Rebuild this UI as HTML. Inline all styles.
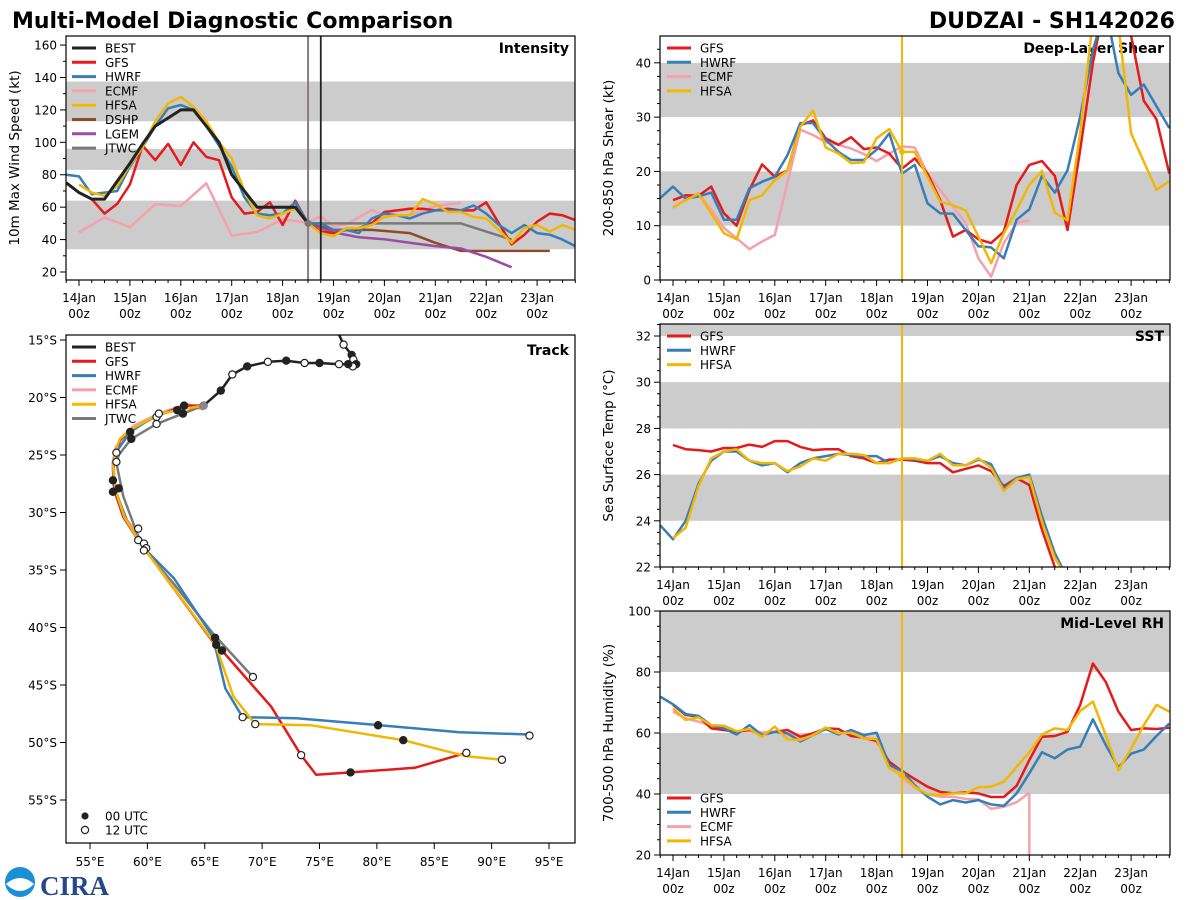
<!DOCTYPE html>
<html><head><meta charset="utf-8"><style>
html,body{margin:0;padding:0;background:#fff;}
svg{display:block;font-family:"DejaVu Sans","Liberation Sans",sans-serif;}
</style></head><body>
<svg id="chart" width="1200" height="900" viewBox="0 0 1200 900" xmlns="http://www.w3.org/2000/svg">
<text x="12" y="28" font-size="22" font-weight="bold" fill="#000">Multi-Model Diagnostic Comparison</text>
<text x="1175" y="28" font-size="22" font-weight="bold" fill="#000" text-anchor="end">DUDZAI - SH142026</text>
<g>
<circle cx="20" cy="882" r="15" fill="#1a8fd6"/>
<path d="M6,884 Q20,872 34,884 Q20,898 6,884Z" fill="#fff"/>
<text x="40" y="895" font-size="27" font-weight="bold" fill="#24488a" font-family="Liberation Serif, serif">CIRA</text>
</g>
</svg>
<script>
// ---------- Data ----------
const dayLabels = ["14Jan","15Jan","16Jan","17Jan","18Jan","19Jan","20Jan","21Jan","22Jan","23Jan"];
const forecastT = 4.5;
const bestFixT = 4.75;
// Intensity (kt), 6-hourly
const intBestStart = -0.25;
const intBest = [75,69,65,65,76,87,99,110,115,120,120,110,100,80,70,60,60,60,60,50];
const intGfsStart = 0;
const intGfs = [69,65,56,62,74,98,89,99,86,100,91,89,66,56,57,63,49,64,50,45,44,46,47,50,57,58,59,59,58,59,58,58,63,50,37,43,51,56,55,52];
const intHwrfStart = -0.25;
const intHwrf = [80,79,68,69,70,85,97,110,121,123,120,110,98,85,66,56,55,56,63,50,50,46,46,44,53,56,55,53,56,58,58,58,61,56,49,44,49,44,43,40,36];
const intHfsaStart = 0;
const intHfsa = [74,69,67,73,86,97,113,124,128,122,113,100,90,70,55,53,56,59,50,44,42,47,47,49,54,55,55,65,62,57,57,54,53,46,38,47,49,45,49,46];
const intEcmfT = [0,0.5,1,1.5,2,2.5,3,3.5,4,4.5,4.75,5,5.25,5.75,6,6.5,7,7.5];
const intEcmf = [44.5,53.7,47.6,61.8,60.7,74.7,42.4,44.7,52.5,50.4,54.5,48,49.4,58.2,55.2,55,60.7,62.8];
const intDshpT = [4.5,5,5.75,6.5,7,7.5,9.25];
const intDshp = [50,46,46,44,38,33,33];
const intLgemT = [4.5,5,5.5,6,6.5,7,7.5,8,8.5];
const intLgem = [50,44.5,41.4,40.2,38.1,36,34.5,29.4,22.9];
const intJtwcT = [4.5,7.5,8.5];
const intJtwc = [50,50,40];
const intBands = [[113,137.5],[83,96],[34,64]];
// Shear (kt)
const shrGfsStart = 0;
const shrGfs = [14.7,15.6,15.5,17.2,12.3,10.0,16.6,21.3,19.0,20.2,28.5,29.4,26.1,24.9,26.3,24.1,24.4,23.3,20.5,22.4,19.6,14.7,8.0,9.2,7.5,6.8,8.9,17.5,21.2,21.9,19.2,9.2,24,40,52,55,45,33,29.6,19.6];
const shrHwrfStart = -0.25;
const shrHwrf = [15.1,17.2,15.0,15.4,16.1,11.1,11.1,16.9,18.1,19.0,23.0,28.9,28.9,25.8,23.6,22.1,22.1,24.0,27.0,19.6,21.2,14.1,12.3,12.2,9.2,6.2,6.0,4.0,11.1,13.0,19.2,16.1,20.2,30.1,42.4,50,38.1,34.1,36.0,32.0,28.0];
const shrEcmfStart = 0;
const shrEcmf = [13.2,15.0,16.0,13.0,9.6,7.7,5.7,7.1,8.3,18.0,27.7,26.7,25.4,24.9,24.2,23.2,21.9,23.3,24.6,24.4,19.6,16.6,13.5,10.5,4.0,0.6,6.8,10.5,11.0];
const shrHfsaStart = 0;
const shrHfsa = [13.4,14.7,15.9,12.3,8.6,7.5,14.7,15.6,18.4,20.2,28.2,31.2,24.4,23.3,21.5,21.7,26.1,27.8,23.6,23.6,19.0,14.4,13.8,12.8,8.0,3.1,8.6,12.9,17.5,20.1,12.4,11.0,27.2,48,52,47,27.0,21.8,16.6,18.2];
const shrBands = [[10,20],[30,40]];
// SST (C)
const sstGfsStart = 0;
const sstGfs = [27.28,27.1,27.06,27.0,27.15,27.15,27.3,27.2,27.45,27.45,27.2,27.06,27.1,27.1,26.8,26.7,26.5,26.65,26.65,26.6,26.5,26.5,26.1,26.25,26.4,26.15,25.5,25.85,25.55,23.6,22.0,21.0];
const sstHwrfStart = -0.25;
const sstHwrf = [23.8,23.2,24.0,25.6,26.6,27.0,27.0,26.6,26.4,26.5,26.1,26.5,26.7,26.8,26.9,26.85,26.8,26.8,26.5,26.7,26.65,26.6,26.8,26.5,26.4,26.65,26.45,25.4,25.85,26.0,24.2,22.6,21.5];
const sstHfsaStart = 0;
const sstHfsa = [23.25,23.7,25.5,26.7,27.0,27.1,26.6,26.5,26.5,26.15,26.35,26.7,26.6,26.9,26.9,26.85,26.5,26.5,26.7,26.7,26.6,26.9,26.4,26.4,26.7,26.3,25.3,25.8,25.9,23.95,22.4,21.5];
const sstBands = [[24,26],[28,30],[32,33]];
// Mid-level RH (%)
const rhGfsStart = 0;
const rhGfs = [69.2,65.9,65.4,61.5,61.0,60.4,61.0,59.3,60.4,61.0,58.8,59.9,61.5,61.3,59.0,58.5,57.4,50.6,47.5,44.9,42.4,40.7,40.2,40.5,40.2,39.0,39.0,42.7,51.1,58.8,59.0,60.4,69.2,82.8,76.8,67.0,61.0,61.5,61.3,61.7];
const rhHwrfStart = -0.25;
const rhHwrf = [71.9,69.4,66.2,65.6,62.6,61.5,59.5,62.6,59.3,60.4,59.9,57.2,59.3,61.3,59.5,61.0,59.3,60.1,49.5,47.5,42.9,39.1,36.6,38.0,37.2,38.0,36.6,36.1,40.2,46.8,53.7,51.7,54.6,55.5,64.5,56.1,48.7,53.2,54.6,59.0,63.1];
const rhEcmfStart = 0;
const rhEcmf = [67.0,64.8,63.7,62.4,61.0,60.4,60.6,60.2,60.4,59.3,58.5,59.9,61.3,60.1,59.9,58.3,57.0,50.6,45.1,42.1,39.9,39.1,39.1,38.4,38.2,35.1,35.8,37.3,40.4];
const rhEcmfDrop = 0;
const rhHfsaStart = 0;
const rhHfsa = [68.0,64.3,65.1,62.6,62.4,60.6,61.3,58.8,62.1,57.9,57.7,59.3,61.8,59.9,60.1,58.3,58.0,48.4,46.2,42.4,39.9,39.7,40.2,40.2,42.2,42.4,44.0,48.9,53.7,59.5,61.5,61.0,67.2,70.3,59.3,47.8,54.9,62.6,69.2,67.0];
const rhBands = [[40,60],[80,100]];
// Track (lon E, lat S)
const trkBestLon = [76.5,77.1,77.8,77.95,78.2,77.9,77.5,76.7,75.0,73.7,72.1,70.5,68.7,67.4,66.4,64.9];
const trkBestLat = [14.1,15.4,16.3,16.7,17.1,17.3,17.1,17.1,17.0,17.0,16.8,16.9,17.3,18.0,19.4,20.7];
const trkBestHour = [12,12,0,12,0,12,0,12,0,12,0,12,0,12,0,12];
const trkGfsLon = [64.9,63.2,60.8,58.6,57.6,57.3,57.0,57.1,57.9,59.2,65.9,66.5,70.8,73.4,74.7,77.7,83.3,87.8];
const trkGfsLat = [20.7,20.7,21.6,22.8,23.7,24.9,26.0,28.0,30.4,32.4,41.5,42.0,46.9,51.1,52.8,52.6,52.2,50.9];
const trkHwrfLon = [64.9,62.6,60.8,58.5,57.3,57.0,57.2,58.2,59.6,62.3,65.7,66.8,68.3,73.0,80.3,87.2,93.3];
const trkHwrfLat = [20.7,21.1,21.5,23.0,24.7,26.3,28.0,30.7,33.0,35.7,40.8,45.3,47.8,47.9,48.5,49.1,49.3];
const trkEcmfLon = [64.9,63.4,61.1,58.8,57.3,57.0,57.2,58.2,59.1];
const trkEcmfLat = [21.0,20.6,21.4,22.5,24.3,25.7,28.3,30.7,31.8];
const trkHfsaLon = [64.9,63.2,61.1,58.5,57.6,57.2,57.0,57.3,58.0,59.4,65.9,67.5,69.4,74.3,82.3,87.8,90.9];
const trkHfsaLat = [20.7,21.0,21.4,22.8,23.6,24.7,26.0,28.3,30.4,32.7,41.4,46.0,48.4,48.5,49.8,51.2,51.5];
const trkJtwcLon = [64.9,63.1,60.8,58.6,57.5,57.3,57.9,59.1,59.8,62.3,65.7,69.2];
const trkJtwcLat = [20.7,21.4,22.3,23.6,25.0,25.7,28.6,31.8,33.3,36.2,40.5,44.3];
const fcstMk00Lon = [63.2,62.6,63.1,58.5,58.6,57.0,57.0,57.5,65.9,66.0,66.5,80.1,82.3,77.7];
const fcstMk00Lat = [20.7,21.1,21.4,23.0,23.6,27.2,28.2,27.9,40.9,41.5,42.0,48.5,49.8,52.6];
const fcstMk12Lon = [60.8,61.0,60.8,57.3,57.3,59.2,59.2,59.7,59.9,59.7,69.2,68.3,69.4,73.4,87.8,90.9,93.3];
const fcstMk12Lat = [21.7,21.4,22.3,24.8,25.6,31.4,32.4,32.7,33.1,33.3,44.3,47.8,48.4,51.1,50.9,51.5,49.4];
const lonTicks = [55,60,65,70,75,80,85,90,95];
const latTicks = [15,20,25,30,35,40,45,50,55];

// ---------- Styling ----------
const COL = {BEST:"#222222",GFS:"#e41a1c",HWRF:"#377eb8",ECMF:"#f4a0ae",HFSA:"#f2b705",DSHP:"#8c4a26",LGEM:"#984ea3",JTWC:"#7a7a7a"};
const NS = "http://www.w3.org/2000/svg";
const svg = document.getElementById('chart');
function mk(tag, attrs, parent){
  const e = document.createElementNS(NS, tag);
  for (const k in attrs) e.setAttribute(k, attrs[k]);
  (parent||svg).appendChild(e);
  return e;
}
function txt(s, attrs, parent){ const e = mk('text', attrs, parent); e.textContent = s; return e; }

function tPanel(key, x0, x1, y0, y1, tx0, vmin, vmax, title, ytitle, majorStep, minorStep, vTickMin, vTickMax, bands){
  return {key,x0,x1,y0,y1,tx0,vmin,vmax,title,ytitle,majorStep,minorStep,vTickMin,vTickMax,bands,
    X: t => tx0 + t*50.9,
    Y: v => y1 - (v - vmin)/(vmax - vmin)*(y1 - y0)};
}
const P_int = tPanel('intensity',66,575,36,280,79,15.06,165.6,'Intensity','10m Max Wind Speed (kt)',20,10,20,160,intBands);
const P_shr = tPanel('shear',660,1170,36,280,673,0,44.94,'Deep-Layer Shear','200-850 hPa Shear (kt)',10,2.5,0,40,shrBands);
const P_sst = tPanel('sst',660,1170,324,567,673,22,32.52,'SST','Sea Surface Temp (°C)',2,0.5,22,32,sstBands);
const P_rh = tPanel('rh',660,1170,611,855,673,20,100,'Mid-Level RH','700-500 hPa Humidity (%)',20,5,20,100,rhBands);

function drawTimePanel(P){
  const g = mk('g', {});
  
  
  const cp = mk('clipPath', {id:'clip-'+P.key}, g);
  mk('rect', {x:P.x0, y:P.y0, width:P.x1-P.x0, height:P.y1-P.y0}, cp);
  const bg = mk('g', {'clip-path':'url(#clip-'+P.key+')'}, g);
  P.bands.forEach(b => {
    const r = mk('rect', {x:P.x0, y:P.Y(b[1]), width:P.x1-P.x0, height:P.Y(b[0])-P.Y(b[1]), fill:'#cccccc'}, bg);
    
    
  });
  for (let i = -1; i <= 39; i++){
    const t = i*0.25, x = P.X(t);
    if (x < P.x0-0.5 || x > P.x1+0.5) continue;
    const major = (i % 4 === 0);
    mk('line', {x1:x, x2:x, y1:P.y1, y2:P.y1+(major?6:3), stroke:'#000','stroke-width':1}, g);
  }
  dayLabels.forEach((d, i) => {
    const x = P.X(i);
    const l = txt(d, {x:x, y:P.y1+22, 'font-size':12, 'text-anchor':'middle'}, g);
    
    
    txt('00z', {x:x, y:P.y1+38, 'font-size':12, 'text-anchor':'middle'}, g);
  });
  for (let v = Math.ceil(P.vmin/P.minorStep)*P.minorStep; v <= P.vmax+1e-6; v += P.minorStep){
    const y = P.Y(v);
    const major = Math.abs(v/P.majorStep - Math.round(v/P.majorStep)) < 1e-6;
    mk('line', {x1:P.x0, x2:P.x0-(major?6:3), y1:y, y2:y, stroke:'#000','stroke-width':1}, g);
  }
  for (let v = P.vTickMin; v <= P.vTickMax+1e-6; v += P.majorStep){
    const l = txt(String(v), {x:P.x0-9, y:P.Y(v)+4.5, 'font-size':12, 'text-anchor':'end'}, g);
    
    
  }
  const cy = (P.y0+P.y1)/2, cx = P.x0 - 47;
  const yt = txt(P.ytitle, {x:cx, y:cy, 'font-size':13.5, 'text-anchor':'middle', transform:'rotate(-90 '+cx+' '+cy+')'}, g);
  
  
  const tt = txt(P.title, {x:P.x1-6, y:P.y0+17, 'font-size':14, 'font-weight':'bold', 'text-anchor':'end'}, g);
  
  
  P.plot = mk('g', {'clip-path':'url(#clip-'+P.key+')'}, g);
  P.g = g;
}
function frame(P){
  const f = mk('rect', {x:P.x0, y:P.y0, width:P.x1-P.x0, height:P.y1-P.y0, fill:'none', stroke:'#000', 'stroke-width':1.2}, P.g);
  
  
}
function seriesStart(P, name, start, vals, w){
  const pts = vals.map((v,i) => [P.X(start + 0.25*i), P.Y(v)]);
  return drawPts(P, name, pts, w);
}
function seriesT(P, name, ts, vals, w){
  const pts = vals.map((v,i) => [P.X(ts[i]), P.Y(v)]);
  return drawPts(P, name, pts, w);
}
function drawPts(P, name, pts, w){
  const d = pts.map((p,i) => (i?'L':'M') + p[0].toFixed(1) + ',' + p[1].toFixed(1)).join('');
  const path = mk('path', {d:d, fill:'none', stroke:COL[name], 'stroke-width':w||2.5, 'stroke-linejoin':'round'}, P.plot);
  
  
  return pts;
}
function vline(P, t, color, w, name){
  const l = mk('line', {x1:P.X(t), x2:P.X(t), y1:P.y0, y2:P.y1, stroke:color, 'stroke-width':w}, P.plot);
  
  
}
function legend(x, y, names, parent){
  names.forEach((n, i) => {
    const g = mk('g', {}, parent);
    
    
    mk('line', {x1:x, x2:x+24, y1:y+i*14.3, y2:y+i*14.3, stroke:COL[n], 'stroke-width':3}, g);
    txt(n, {x:x+33, y:y+i*14.3+4.5, 'font-size':12}, g);
  });
}

// ---- Intensity ----
drawTimePanel(P_int);
seriesT(P_int,'ECMF',intEcmfT,intEcmf);
seriesT(P_int,'DSHP',intDshpT,intDshp);
seriesT(P_int,'LGEM',intLgemT,intLgem);
seriesT(P_int,'JTWC',intJtwcT,intJtwc);
seriesStart(P_int,'GFS',intGfsStart,intGfs);
seriesStart(P_int,'HWRF',intHwrfStart,intHwrf);
seriesStart(P_int,'HFSA',intHfsaStart,intHfsa);
seriesStart(P_int,'BEST',intBestStart,intBest,3);
vline(P_int, forecastT, '#8a7d7d', 2, 'forecast-init-line');
vline(P_int, bestFixT, '#222', 1.8, 'latest-fix-line');
mk('circle', {cx:P_int.X(forecastT), cy:P_int.Y(intJtwc[0]), r:3.5, fill:'#777'}, P_int.plot);
legend(72, 48, ['BEST','GFS','HWRF','ECMF','HFSA','DSHP','LGEM','JTWC'], P_int.g);
frame(P_int);

// ---- Shear ----
drawTimePanel(P_shr);
seriesStart(P_shr,'ECMF',shrEcmfStart,shrEcmf);
seriesStart(P_shr,'GFS',shrGfsStart,shrGfs);
seriesStart(P_shr,'HWRF',shrHwrfStart,shrHwrf);
seriesStart(P_shr,'HFSA',shrHfsaStart,shrHfsa);
vline(P_shr, forecastT, COL.HFSA, 2, 'forecast-init-line');
mk('circle', {cx:P_shr.X(forecastT), cy:P_shr.Y(shrHfsa[18]), r:3, fill:COL.HFSA}, P_shr.plot);
legend(667, 48, ['GFS','HWRF','ECMF','HFSA'], P_shr.g);
frame(P_shr);

// ---- SST ----
drawTimePanel(P_sst);
seriesStart(P_sst,'GFS',sstGfsStart,sstGfs);
seriesStart(P_sst,'HWRF',sstHwrfStart,sstHwrf);
seriesStart(P_sst,'HFSA',sstHfsaStart,sstHfsa);
vline(P_sst, forecastT, COL.HFSA, 2, 'forecast-init-line');
legend(667, 336, ['GFS','HWRF','HFSA'], P_sst.g);
frame(P_sst);

// ---- RH ----
drawTimePanel(P_rh);
const rhE = seriesStart(P_rh,'ECMF',rhEcmfStart,rhEcmf);
const last = rhE[rhE.length-1];
const drop = mk('line', {x1:last[0], x2:last[0], y1:last[1], y2:P_rh.Y(rhEcmfDrop), stroke:COL.ECMF, 'stroke-width':2.5}, P_rh.plot);


seriesStart(P_rh,'GFS',rhGfsStart,rhGfs);
seriesStart(P_rh,'HWRF',rhHwrfStart,rhHwrf);
seriesStart(P_rh,'HFSA',rhHfsaStart,rhHfsa);
vline(P_rh, forecastT, COL.HFSA, 2, 'forecast-init-line');
mk('circle', {cx:P_rh.X(forecastT), cy:P_rh.Y(rhHfsa[18]), r:3, fill:COL.HFSA}, P_rh.plot);
legend(667, 798, ['GFS','HWRF','ECMF','HFSA'], P_rh.g);
frame(P_rh);

// ---- Track ----
const T = {x0:66, x1:575, y0:335, y1:843,
  X: lon => 90 + (lon-55)*11.475,
  Y: lat => 340 + (lat-15)*11.5};
const tg = mk('g', {});


const tcp = mk('clipPath', {id:'clip-track'}, tg);
mk('rect', {x:T.x0, y:T.y0, width:T.x1-T.x0, height:T.y1-T.y0}, tcp);
const tplot = mk('g', {'clip-path':'url(#clip-track)'}, tg);
lonTicks.forEach(lon => {
  const x = T.X(lon);
  mk('line', {x1:x, x2:x, y1:T.y1, y2:T.y1+6, stroke:'#000'}, tg);
  const l = txt(lon + '°E', {x:x, y:T.y1+23, 'font-size':12, 'text-anchor':'middle'}, tg);
  
  
});
latTicks.forEach(lat => {
  const y = T.Y(lat);
  mk('line', {x1:T.x0, x2:T.x0-6, y1:y, y2:y, stroke:'#000'}, tg);
  const l = txt(lat + '°S', {x:T.x0-9, y:y+4.5, 'font-size':12, 'text-anchor':'end'}, tg);
  
  
});
function trackLine(name, lons, lats, w){
  const d = lons.map((lo,i) => (i?'L':'M') + T.X(lo).toFixed(1) + ',' + T.Y(lats[i]).toFixed(1)).join('');
  const p = mk('path', {d:d, fill:'none', stroke:COL[name], 'stroke-width':w||2.5, 'stroke-linejoin':'round'}, tplot);
  
  
}
trackLine('ECMF', trkEcmfLon, trkEcmfLat, 3.5);
trackLine('JTWC', trkJtwcLon, trkJtwcLat, 2.5);
trackLine('GFS', trkGfsLon, trkGfsLat);
trackLine('HWRF', trkHwrfLon, trkHwrfLat);
trackLine('HFSA', trkHfsaLon, trkHfsaLat);
trackLine('BEST', trkBestLon, trkBestLat, 2.5);
function marker(lon, lat, filled, name){
  const c = mk('circle', {cx:T.X(lon), cy:T.Y(lat), r:3.6, fill:filled?'#222':'#fff', stroke:'#222', 'stroke-width':1.2}, tplot);
  
  
}
trkBestLon.forEach((lo,i) => marker(lo, trkBestLat[i], trkBestHour[i] === 0, 'best-track-marker'));
fcstMk12Lon.forEach((lo,i) => marker(lo, fcstMk12Lat[i], false, 'forecast-12utc-marker'));
fcstMk00Lon.forEach((lo,i) => marker(lo, fcstMk00Lat[i], true, 'forecast-00utc-marker'));
mk('circle', {cx:T.X(trkBestLon[trkBestLon.length-1]), cy:T.Y(trkBestLat[trkBestLat.length-1]), r:4, fill:'#888'}, tplot);
legend(72, 347, ['BEST','GFS','HWRF','ECMF','HFSA','JTWC'], tg);
const l00 = mk('g', {}, tg);


mk('circle', {cx:85, cy:816, r:3.6, fill:'#222'}, l00);
txt('00 UTC', {x:105, y:820.5, 'font-size':12}, l00);
const l12 = mk('g', {}, tg);


mk('circle', {cx:85, cy:830, r:3.6, fill:'#fff', stroke:'#222', 'stroke-width':1.2}, l12);
txt('12 UTC', {x:105, y:834.5, 'font-size':12}, l12);
const tt = txt('Track', {x:T.x1-6, y:T.y0+20, 'font-size':14, 'font-weight':'bold', 'text-anchor':'end'}, tg);


const tf = mk('rect', {x:T.x0, y:T.y0, width:T.x1-T.x0, height:T.y1-T.y0, fill:'none', stroke:'#000', 'stroke-width':1.2}, tg);


</script>
</body></html>
